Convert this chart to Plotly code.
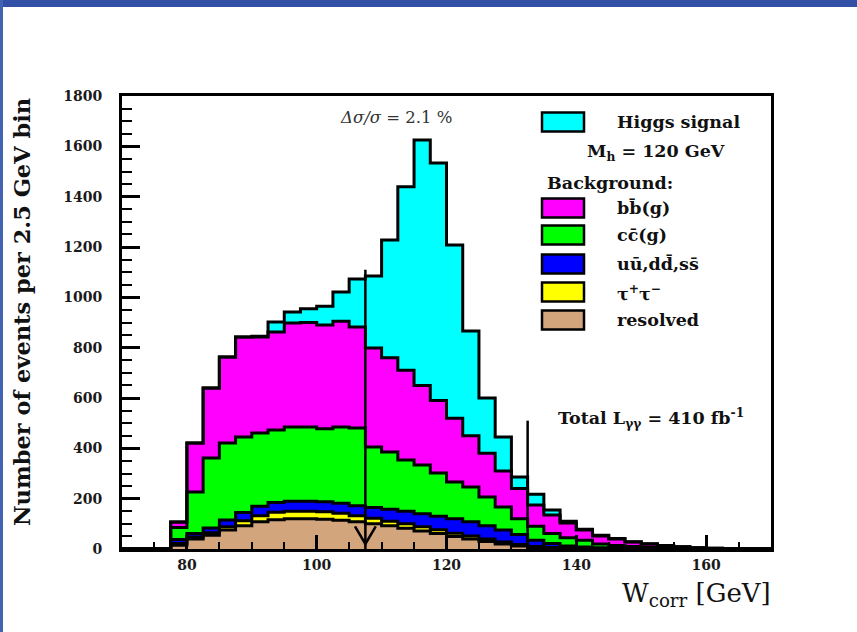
import numpy as np
import plotly.graph_objects as go

# ---- data: events per 2.5 GeV bin, W_corr from 70 to 170 GeV ----
bin_lo, bin_width, n_bins = 70.0, 2.5, 40

resolved = [0, 0, 0, 15, 40, 55, 75, 92, 108, 116, 120, 120, 118, 114, 108, 100, 92, 82, 72, 62,
            50, 40, 30, 20, 12, 6, 3, 2, 1, 0, 0, 0, 0, 0, 0, 0, 0, 0, 0, 0]
tautau = [0, 0, 0, 7, 8, 10, 13, 20, 24, 30, 30, 30, 30, 28, 24, 22, 18, 18, 16, 14,
          13, 12, 10, 8, 6, 4, 3, 1, 1, 1, 0, 0, 0, 0, 0, 0, 0, 0, 0, 0]
light_qq = [0, 0, 0, 16, 14, 18, 27, 33, 38, 39, 40, 40, 40, 40, 40, 43, 48, 50, 52, 54,
            57, 56, 52, 47, 40, 25, 16, 9, 6, 4, 3, 2, 1, 0, 0, 0, 0, 0, 0, 0]
ccg = [0, 0, 0, 47, 164, 279, 306, 300, 291, 288, 295, 295, 290, 303, 309, 240, 227, 204, 194, 172,
       146, 138, 115, 92, 62, 55, 40, 33, 27, 15, 11, 8, 6, 5, 3, 2, 0, 0, 0, 0]
bbg = [0, 0, 0, 22, 195, 278, 342, 397, 381, 389, 413, 415, 412, 420, 401, 394, 375, 356, 316, 288,
       254, 204, 173, 143, 120, 85, 73, 58, 40, 32, 26, 18, 13, 9, 6, 3, 3, 0, 0, 0]
higgs = [0, 0, 0, 0, 0, 0, 0, 0, 3, 40, 44, 55, 75, 116, 191, 286, 468, 729, 975, 944,
         688, 416, 220, 135, 46, 43, 20, 7, 3, 3, 2, 1, 1, 0, 0, 0, 0, 0, 0, 0]

# mass window cut lines (position in GeV, drawn height in events)
cut_pos = [107.5, 132.5]
cut_height = [1110, 510]

# stacking order: bottom to top
series = [
    ("resolved", resolved, "#d2a57d"),
    ("τ<sup>+</sup>τ<sup>−</sup>", tautau, "#ffff00"),
    ("uū,dd̄,ss̄", light_qq, "#0000ff"),
    ("cc̄(g)", ccg, "#00ff00"),
    ("bb̄(g)", bbg, "#ff00ff"),
    ("Higgs signal", higgs, "#00ffff"),
]

edges = bin_lo + bin_width * np.arange(n_bins + 1)

fig = go.Figure()
for name, vals, col in series:
    y = list(vals) + [vals[-1]]
    fig.add_trace(go.Scatter(
        x=edges, y=y, mode="lines", stackgroup="stack",
        line=dict(shape="hv", color="black", width=3),
        fillcolor=col, name=name, showlegend=False, hoverinfo="skip",
    ))

for c, h in zip(cut_pos, cut_height):
    fig.add_trace(go.Scatter(x=[c, c], y=[0, h], mode="lines",
                             line=dict(color="black", width=2.5),
                             showlegend=False, hoverinfo="skip"))
# small V marker at the foot of the lower cut
fig.add_trace(go.Scatter(x=[cut_pos[0] - 1.6, cut_pos[0], cut_pos[0] + 1.6], y=[90, 20, 90],
                         mode="lines", line=dict(color="black", width=2.5),
                         showlegend=False, hoverinfo="skip"))

# ---- page geometry (pixels) ----
W, H = 857, 632
ML, MR, MT, MB = 122, 86, 96, 83
PW, PH = W - ML - MR, H - MT - MB


def px(x):
    return (x - ML) / PW


def py(y):
    return (H - MB - y) / PH


serif = "DejaVu Serif"
tick_font = dict(family=serif, size=14, color="#1a1a1a", weight="bold")

fig.update_layout(
    width=W, height=H, autosize=False,
    margin=dict(l=ML, r=MR, t=MT, b=MB, pad=0),
    paper_bgcolor="white", plot_bgcolor="white",
    xaxis=dict(range=[70, 170], tick0=0, dtick=20, ticks="inside", ticklen=14, tickwidth=3,
               tickcolor="black", showline=True, linecolor="black", linewidth=3, mirror=True,
               showgrid=False, zeroline=False, tickfont=tick_font, automargin=False,
               minor=dict(ticks="inside", dtick=5, ticklen=7, tickwidth=2, tickcolor="black",
                          showgrid=False),
               ticklabelstandoff=1),
    yaxis=dict(range=[0, 1800], tick0=0, dtick=200, ticks="inside", ticklen=18, tickwidth=3,
               tickcolor="black", showline=True, linecolor="black", linewidth=3, mirror=True,
               showgrid=False, zeroline=False, tickfont=tick_font, automargin=False,
               minor=dict(ticks="inside", dtick=50, ticklen=10, tickwidth=2, tickcolor="black",
                          showgrid=False),
               ticklabelstandoff=14),
)

annotations = []
shapes = []

# slide frame bands
shapes.append(dict(type="rect", xref="paper", yref="paper", x0=px(0), x1=px(W), y0=py(7), y1=py(0),
                   fillcolor="#3150a6", line=dict(width=0), layer="above"))
shapes.append(dict(type="rect", xref="paper", yref="paper", x0=px(0), x1=px(3), y0=py(H), y1=py(0),
                   fillcolor="#4262b2", line=dict(width=0), layer="above"))

# axis titles
annotations.append(dict(text="Number of events per 2.5 GeV bin", xref="paper", yref="paper",
                        x=px(22), y=py(312), textangle=-90, showarrow=False,
                        xanchor="center", yanchor="middle",
                        font=dict(family=serif, size=22.5, color="#111", weight="bold")))
annotations.append(dict(text="W<sub>corr</sub> [GeV]", xref="paper", yref="paper",
                        x=px(773), y=py(594), showarrow=False, xanchor="right", yanchor="middle",
                        font=dict(family=serif, size=26, color="#111")))

# in-plot labels
annotations.append(dict(text="<i>Δσ/σ</i> = 2.1 %", xref="paper", yref="paper",
                        x=px(338), y=py(117), showarrow=False, xanchor="left", yanchor="middle",
                        font=dict(family=serif, size=16.5, color="#333")))
annotations.append(dict(text="Total L<sub>γγ</sub> = 410 fb<sup>-1</sup>", xref="paper", yref="paper",
                        x=px(556), y=py(418), showarrow=False, xanchor="left", yanchor="middle",
                        font=dict(family=serif, size=17.5, color="#111", weight="bold")))

# legend: boxes with labels
leg_font = dict(family=serif, size=17.5, color="#111", weight="bold")
box_x0, box_x1, text_x = 542, 584, 615
legend_rows = [
    ("box", series[5][0], series[5][2], 122),
    ("text", "M<sub>h</sub> = 120 GeV", None, 152),
    ("head", "Background:", None, 183),
    ("box", series[4][0], series[4][2], 208),
    ("box", series[3][0], series[3][2], 235),
    ("box", series[2][0], series[2][2], 264),
    ("box", series[1][0], series[1][2], 292),
    ("box", series[0][0], series[0][2], 320),
]
for kind, label, col, yc in legend_rows:
    if kind == "box":
        shapes.append(dict(type="rect", xref="paper", yref="paper",
                           x0=px(box_x0), x1=px(box_x1), y0=py(yc + 9.5), y1=py(yc - 9.5),
                           fillcolor=col, line=dict(color="black", width=2.5), layer="above"))
        tx = text_x
    elif kind == "text":
        tx = 585
    else:
        tx = 545
    annotations.append(dict(text=label, xref="paper", yref="paper", x=px(tx), y=py(yc),
                            showarrow=False, xanchor="left", yanchor="middle", font=leg_font))

fig.update_layout(annotations=annotations, shapes=shapes)
fig.write_html("out.html")
